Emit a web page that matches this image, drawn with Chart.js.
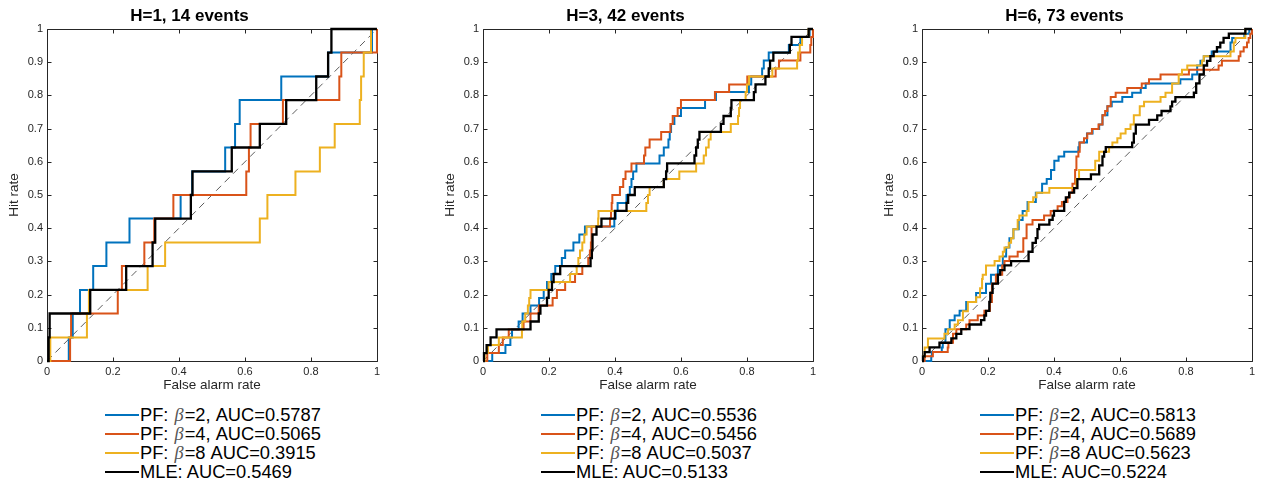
<!DOCTYPE html>
<html>
<head>
<meta charset="utf-8">
<title>ROC curves</title>
<script src="https://cdn.jsdelivr.net/npm/chart.js@4.4.1/dist/chart.umd.min.js"></script>
<style>
  body { margin: 0; background: #fff; width: 1265px; height: 488px; position: relative; overflow: hidden;
         font-family: 'Liberation Sans', Arial, Helvetica, sans-serif; }
  .panel { position: absolute; top: 0; }
  .legend { position: absolute; top: 405px; font-size: 18.3px; color: #000; }
  .legend .row { height: 19px; white-space: nowrap; display: flex; align-items: center; }
  .legend .swatch { width: 34px; height: 2px; margin-right: 1px; }
  .legend i { font-family: 'Liberation Serif', serif; color: #555; padding: 0 1px 0 1px; }
</style>
</head>
<body>
<div class="panel" style="left:0px"><canvas id="c1" width="384" height="400"></canvas></div>
<div class="panel" style="left:436px"><canvas id="c2" width="384" height="400"></canvas></div>
<div class="panel" style="left:875px"><canvas id="c3" width="384" height="400"></canvas></div>
<div class="legend" id="leg1" style="left:105px"></div>
<div class="legend" id="leg2" style="left:541px"></div>
<div class="legend" id="leg3" style="left:980px"></div>
<script>
// titles, tick values, legend text
const panelTitles = ['H=1, 14 events', 'H=3, 42 events', 'H=6, 73 events'];
const xTicks = [0, 0.2, 0.4, 0.6, 0.8, 1];
const yTicks = [0, 0.1, 0.2, 0.3, 0.4, 0.5, 0.6, 0.7, 0.8, 0.9, 1];
const labelHeads = ['PF: β=2, AUC=', 'PF: β=4, AUC=', 'PF: β=8 AUC=', 'MLE: AUC='];
const aucH1 = ['0.5787', '0.5065', '0.3915', '0.5469'];
const aucH3 = ['0.5536', '0.5456', '0.5037', '0.5133'];
const aucH6 = ['0.5813', '0.5689', '0.5623', '0.5224'];
const seriesColors = ['#0072BD', '#D95319', '#EDB120', '#000000'];

// ROC corners [false alarm rate, hit rate]
const diagonal = [[0, 0], [1, 1]];

const h1Blue = [[0,0],[0.066,0.071],[0.078,0.143],[0.10,0.214],[0.14,0.286],[0.18,0.357],[0.25,0.429],[0.405,0.5],[0.44,0.571],[0.54,0.643],[0.57,0.714],[0.584,0.786],[0.71,0.857],[0.852,0.929],[0.985,1],[1,1]];
const h1Red = [[0,0],[0.07,0.071],[0.073,0.143],[0.2145,0.214],[0.227,0.286],[0.295,0.357],[0.325,0.429],[0.383,0.5],[0.604,0.571],[0.612,0.643],[0.617,0.714],[0.715,0.786],[0.886,0.857],[0.892,0.929],[1,1]];
const h1Yellow = [[0,0],[0.01,0.071],[0.121,0.143],[0.127,0.214],[0.305,0.286],[0.358,0.357],[0.645,0.429],[0.668,0.5],[0.753,0.571],[0.827,0.643],[0.872,0.714],[0.948,0.786],[0.952,0.857],[0.96,0.929],[0.982,1],[1,1]];
const h1Black = [[0,0],[0.005,0.071],[0.008,0.143],[0.131,0.214],[0.24,0.286],[0.32,0.357],[0.328,0.429],[0.436,0.5],[0.441,0.571],[0.56,0.643],[0.645,0.714],[0.725,0.786],[0.816,0.857],[0.852,0.929],[0.862,1],[1,1]];

const h3Blue = [[0,0],[0.028,0.024],[0.068,0.048],[0.083,0.071],[0.088,0.095],[0.108,0.119],[0.12,0.143],[0.144,0.167],[0.17,0.19],[0.184,0.214],[0.194,0.238],[0.207,0.262],[0.219,0.286],[0.239,0.31],[0.249,0.333],[0.274,0.357],[0.292,0.381],[0.309,0.405],[0.398,0.429],[0.402,0.452],[0.408,0.476],[0.435,0.5],[0.445,0.524],[0.45,0.548],[0.455,0.571],[0.465,0.595],[0.535,0.619],[0.548,0.643],[0.562,0.667],[0.566,0.69],[0.57,0.714],[0.58,0.738],[0.6,0.762],[0.673,0.786],[0.706,0.81],[0.806,0.833],[0.813,0.857],[0.846,0.881],[0.851,0.905],[0.866,0.929],[0.927,0.952],[0.962,0.976],[0.99,1],[1,1]];
const h3Red = [[0,0],[0.013,0.024],[0.048,0.048],[0.06,0.071],[0.078,0.095],[0.123,0.119],[0.144,0.143],[0.169,0.167],[0.211,0.19],[0.224,0.214],[0.249,0.238],[0.279,0.262],[0.301,0.286],[0.319,0.31],[0.324,0.333],[0.327,0.357],[0.329,0.405],[0.385,0.429],[0.388,0.452],[0.39,0.476],[0.392,0.5],[0.415,0.524],[0.425,0.548],[0.432,0.571],[0.45,0.595],[0.488,0.619],[0.492,0.643],[0.505,0.667],[0.54,0.69],[0.568,0.714],[0.575,0.738],[0.59,0.762],[0.6,0.786],[0.703,0.81],[0.746,0.833],[0.801,0.857],[0.887,0.881],[0.897,0.905],[0.962,0.929],[0.992,0.952],[0.995,0.976],[1,1]];
const h3Yellow = [[0,0],[0.005,0.024],[0.015,0.048],[0.048,0.071],[0.118,0.095],[0.119,0.119],[0.128,0.143],[0.136,0.167],[0.14,0.19],[0.144,0.214],[0.199,0.238],[0.264,0.262],[0.284,0.286],[0.289,0.31],[0.294,0.333],[0.301,0.357],[0.307,0.381],[0.314,0.405],[0.349,0.429],[0.35,0.452],[0.495,0.476],[0.5,0.5],[0.505,0.524],[0.548,0.548],[0.595,0.571],[0.646,0.595],[0.669,0.619],[0.676,0.643],[0.684,0.667],[0.69,0.69],[0.751,0.714],[0.773,0.738],[0.776,0.762],[0.779,0.786],[0.796,0.81],[0.8,0.833],[0.806,0.857],[0.877,0.881],[0.952,0.905],[0.955,0.929],[0.96,0.952],[0.967,0.976],[0.987,1],[1,1]];
const h3Black = [[0,0],[0.003,0.024],[0.011,0.048],[0.023,0.071],[0.041,0.095],[0.144,0.119],[0.169,0.143],[0.174,0.167],[0.194,0.19],[0.199,0.214],[0.209,0.238],[0.214,0.262],[0.234,0.286],[0.326,0.31],[0.33,0.333],[0.332,0.381],[0.344,0.405],[0.359,0.429],[0.4,0.452],[0.435,0.476],[0.44,0.5],[0.46,0.524],[0.548,0.548],[0.555,0.571],[0.558,0.595],[0.641,0.619],[0.646,0.643],[0.651,0.667],[0.656,0.69],[0.721,0.714],[0.729,0.738],[0.751,0.762],[0.753,0.786],[0.821,0.81],[0.826,0.833],[0.856,0.857],[0.866,0.881],[0.87,0.905],[0.88,0.929],[0.93,0.952],[0.935,0.976],[0.987,1],[1,1]];

const h6Blue = [[0,0],[0.028,0.014],[0.03,0.027],[0.06,0.041],[0.063,0.055],[0.071,0.096],[0.084,0.123],[0.099,0.137],[0.114,0.151],[0.134,0.178],[0.164,0.205],[0.194,0.233],[0.209,0.26],[0.23,0.288],[0.245,0.315],[0.255,0.342],[0.265,0.37],[0.277,0.397],[0.293,0.425],[0.305,0.452],[0.32,0.479],[0.345,0.507],[0.364,0.534],[0.378,0.548],[0.391,0.575],[0.401,0.603],[0.414,0.616],[0.431,0.63],[0.474,0.644],[0.477,0.658],[0.5,0.685],[0.517,0.699],[0.537,0.712],[0.547,0.74],[0.562,0.767],[0.575,0.781],[0.607,0.795],[0.637,0.808],[0.663,0.822],[0.678,0.836],[0.783,0.849],[0.819,0.863],[0.834,0.89],[0.844,0.904],[0.854,0.918],[0.878,0.932],[0.935,0.959],[0.94,0.973],[0.977,0.986],[0.992,1],[1,1]];
const h6Red = [[0,0],[0.008,0.014],[0.033,0.027],[0.078,0.041],[0.08,0.055],[0.094,0.082],[0.104,0.096],[0.134,0.11],[0.144,0.123],[0.169,0.137],[0.189,0.151],[0.206,0.178],[0.212,0.233],[0.224,0.26],[0.243,0.288],[0.25,0.301],[0.265,0.315],[0.29,0.329],[0.307,0.37],[0.317,0.411],[0.335,0.425],[0.37,0.438],[0.39,0.452],[0.411,0.466],[0.424,0.479],[0.441,0.493],[0.448,0.507],[0.456,0.534],[0.464,0.575],[0.468,0.616],[0.474,0.63],[0.478,0.658],[0.491,0.671],[0.501,0.685],[0.515,0.699],[0.535,0.712],[0.547,0.74],[0.555,0.753],[0.562,0.767],[0.572,0.795],[0.587,0.808],[0.622,0.822],[0.666,0.836],[0.688,0.849],[0.723,0.863],[0.809,0.877],[0.899,0.89],[0.909,0.904],[0.96,0.918],[0.965,0.932],[0.975,0.945],[0.985,0.959],[0.99,0.973],[0.995,0.986],[1,1]];
const h6Yellow = [[0,0],[0.003,0.014],[0.008,0.041],[0.018,0.068],[0.068,0.082],[0.079,0.096],[0.099,0.11],[0.109,0.123],[0.124,0.15],[0.139,0.178],[0.164,0.192],[0.176,0.219],[0.182,0.247],[0.184,0.26],[0.194,0.288],[0.22,0.301],[0.235,0.315],[0.245,0.329],[0.25,0.342],[0.263,0.356],[0.27,0.37],[0.277,0.397],[0.29,0.425],[0.295,0.438],[0.317,0.452],[0.323,0.479],[0.337,0.493],[0.347,0.507],[0.386,0.521],[0.468,0.548],[0.476,0.575],[0.525,0.603],[0.537,0.63],[0.567,0.644],[0.577,0.658],[0.592,0.671],[0.602,0.685],[0.617,0.699],[0.632,0.712],[0.642,0.74],[0.66,0.767],[0.673,0.781],[0.723,0.795],[0.738,0.808],[0.758,0.836],[0.778,0.863],[0.788,0.877],[0.804,0.89],[0.849,0.904],[0.854,0.918],[0.935,0.932],[0.945,0.959],[0.95,0.973],[0.98,1],[1,1]];
const h6Black = [[0,0],[0.003,0.014],[0.008,0.027],[0.023,0.041],[0.053,0.055],[0.089,0.068],[0.104,0.082],[0.119,0.096],[0.144,0.11],[0.179,0.123],[0.189,0.137],[0.194,0.151],[0.204,0.178],[0.207,0.205],[0.214,0.233],[0.23,0.26],[0.237,0.274],[0.25,0.288],[0.27,0.301],[0.323,0.329],[0.335,0.356],[0.345,0.37],[0.35,0.397],[0.355,0.411],[0.386,0.425],[0.396,0.438],[0.4,0.452],[0.431,0.479],[0.436,0.493],[0.446,0.507],[0.461,0.521],[0.471,0.548],[0.512,0.562],[0.537,0.589],[0.547,0.616],[0.552,0.63],[0.557,0.644],[0.637,0.658],[0.642,0.685],[0.648,0.712],[0.688,0.726],[0.713,0.74],[0.726,0.753],[0.753,0.767],[0.758,0.781],[0.768,0.795],[0.824,0.808],[0.831,0.836],[0.841,0.863],[0.854,0.89],[0.864,0.904],[0.874,0.918],[0.884,0.932],[0.894,0.945],[0.904,0.959],[0.914,0.973],[0.93,0.986],[0.98,1],[1,1]];

const fontFamily = "'Liberation Sans', Arial, Helvetica, sans-serif";
const axisColor = '#262626';
const tickLen = 4;

// MATLAB style box with inward ticks on all four sides
const boxPlugin = {
    id: 'matlabBox',
    beforeDatasetsDraw(chart) {
        const { ctx, chartArea: a, scales } = chart;
        const l = Math.round(a.left) + 0.5, r = Math.round(a.right) + 0.5;
        const t = Math.round(a.top) + 0.5, b = Math.round(a.bottom) + 0.5;
        ctx.save();
        ctx.strokeStyle = axisColor;
        ctx.lineWidth = 1;
        ctx.beginPath();
        ctx.rect(l, t, r - l, b - t);
        scales.x.ticks.forEach(tk => {
            const px = Math.round(scales.x.getPixelForValue(tk.value)) + 0.5;
            ctx.moveTo(px, b); ctx.lineTo(px, b - tickLen);
            ctx.moveTo(px, t); ctx.lineTo(px, t + tickLen);
        });
        scales.y.ticks.forEach(tk => {
            const py = Math.round(scales.y.getPixelForValue(tk.value)) + 0.5;
            ctx.moveTo(l, py); ctx.lineTo(l + tickLen, py);
            ctx.moveTo(r, py); ctx.lineTo(r - tickLen, py);
        });
        ctx.stroke();
        ctx.restore();
    }
};

function toPoints(pairs) {
    return pairs.map(([x, y]) => ({ x: x, y: y }));
}

function makeChart(canvasId, title, curves) {
    const datasets = curves.map((c, i) => ({
        data: toPoints(c),
        borderColor: seriesColors[i],
        borderWidth: i === 3 ? 2.3 : 2,
        stepped: true,
        pointRadius: 0,
        fill: false,
        clip: false,
        borderJoinStyle: 'miter',
        order: 3 - i
    }));
    datasets.push({
        data: toPoints(diagonal),
        borderColor: '#333333',
        borderWidth: 0.8,
        borderDash: [7, 5],
        pointRadius: 0,
        fill: false,
        order: 10
    });

    return new Chart(document.getElementById(canvasId).getContext('2d'), {
        type: 'line',
        data: { datasets: datasets },
        plugins: [boxPlugin],
        options: {
            responsive: false,
            animation: false,
            layout: { padding: { right: 5 } },
            plugins: {
                legend: { display: false },
                tooltip: { enabled: false },
                title: {
                    display: true,
                    text: title,
                    color: '#000',
                    font: { family: fontFamily, size: 17, weight: 'bold', lineHeight: 1.2 },
                    padding: { top: 6, bottom: 2.6 }
                }
            },
            scales: {
                x: {
                    type: 'linear',
                    min: 0,
                    max: 1,
                    afterBuildTicks: s => { s.ticks = xTicks.map(v => ({ value: v })); },
                    afterFit: s => { s.height = 39; },
                    grid: { display: false, drawTicks: false },
                    border: { display: false },
                    ticks: { color: axisColor, padding: 4, maxRotation: 0, font: { family: fontFamily, size: 11 },
                             callback: v => String(v) },
                    title: { display: true, text: 'False alarm rate', color: axisColor,
                             font: { family: fontFamily, size: 13.5, lineHeight: 1.2 }, padding: { top: 0, bottom: 7 } }
                },
                y: {
                    type: 'linear',
                    min: 0,
                    max: 1,
                    afterBuildTicks: s => { s.ticks = yTicks.map(v => ({ value: v })); },
                    afterFit: s => { s.width = 47; },
                    grid: { display: false, drawTicks: false },
                    border: { display: false },
                    ticks: { color: axisColor, padding: 4, font: { family: fontFamily, size: 11 },
                             callback: v => String(v) },
                    title: { display: true, text: 'Hit rate', color: axisColor,
                             font: { family: fontFamily, size: 13.5, lineHeight: 1.2 }, padding: { top: 6, bottom: 0 } }
                }
            }
        }
    });
}

function makeLegend(divId, aucs) {
    const div = document.getElementById(divId);
    labelHeads.forEach((head, i) => {
        const row = document.createElement('div');
        row.className = 'row';
        const sw = document.createElement('span');
        sw.className = 'swatch';
        sw.style.background = seriesColors[i];
        const txt = document.createElement('span');
        txt.innerHTML = head.replace('β', '<i>β</i>') + aucs[i];
        row.appendChild(sw);
        row.appendChild(txt);
        div.appendChild(row);
    });
}

makeChart('c1', panelTitles[0], [h1Blue, h1Red, h1Yellow, h1Black]);
makeChart('c2', panelTitles[1], [h3Blue, h3Red, h3Yellow, h3Black]);
makeChart('c3', panelTitles[2], [h6Blue, h6Red, h6Yellow, h6Black]);
makeLegend('leg1', aucH1);
makeLegend('leg2', aucH3);
makeLegend('leg3', aucH6);
</script>
</body>
</html>
